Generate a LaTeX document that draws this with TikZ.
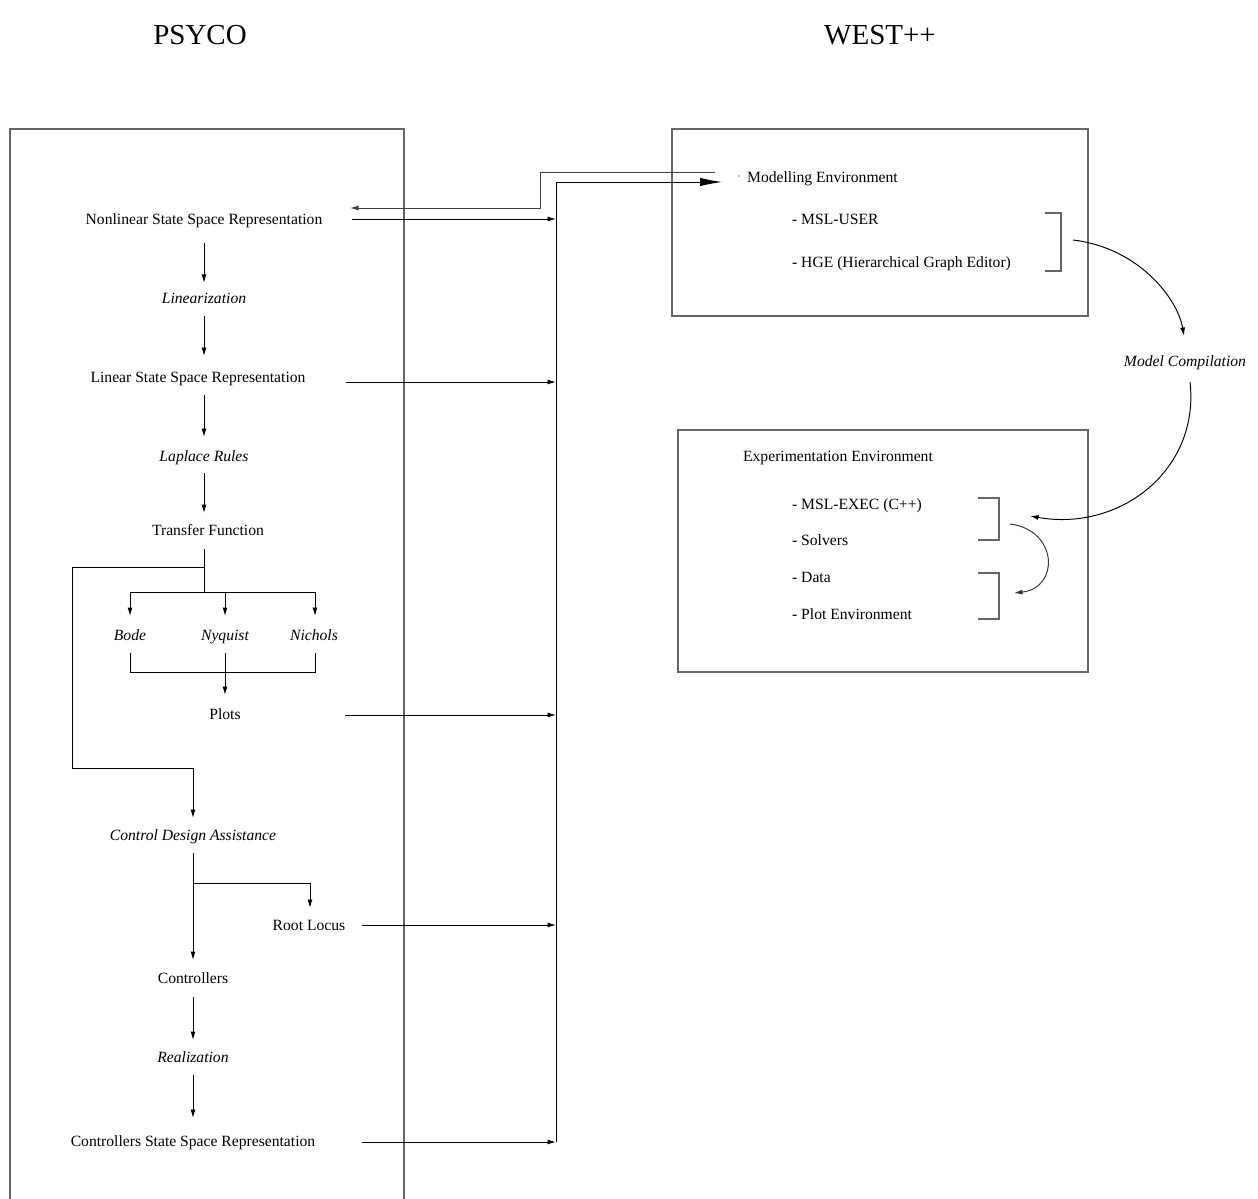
\documentclass[tikz,border=0pt]{standalone}
\usepackage{fontspec}
\setmainfont{Liberation Serif}
\usetikzlibrary{arrows, arrows.meta}

\begin{document}
\begin{tikzpicture}[x=0.02cm, y=-0.02cm,
		txt/.style={font=\fontsize{8.9}{10}\selectfont, inner sep=1pt, text height=1.6ex, text depth=0.4ex},
		itxt/.style={txt, font=\fontsize{8.9}{10}\selectfont\itshape},
		ltxt/.style={txt, anchor=west},
		ttl/.style={font=\fontsize{16.5}{18}\selectfont},
		frame/.style={draw=black!60, line width=0.6pt},
		flow/.style={-{Latex[length=1.7mm,width=1mm]}, line width=0.55pt},
		link/.style={line width=0.55pt}]
		\useasboundingbox (0, 0) rectangle (1258, 1199);
		% titles
		\node(PSYCO) at (200, 35)[ttl]{PSYCO};
		\node(WEST) at (880, 35)[ttl]{WEST++};
		% frames
		\draw[frame] (10, 1199)--(10, 129)--(404, 129)--(404, 1199);
		\draw[frame] (672, 129) rectangle (1088, 316);
		\draw[frame] (678, 430) rectangle (1088, 672);
		% PSYCO chain
		\node(NSS) at (204, 220)[txt]{Nonlinear State Space Representation};
		\node(LIN) at (204, 299)[itxt]{Linearization};
		\node(LSS) at (198, 378)[txt]{Linear State Space Representation};
		\node(LAP) at (204, 457)[itxt]{Laplace Rules};
		\node(TF) at (208, 531)[txt]{Transfer Function};
		\node(BODE) at (130, 636)[itxt]{Bode};
		\node(NYQ) at (225, 636)[itxt]{Nyquist};
		\node(NICH) at (314, 636)[itxt]{Nichols};
		\node(PLOTS) at (225, 715)[txt]{Plots};
		\node(CDA) at (193, 836)[itxt]{Control Design Assistance};
		\node(RL) at (309, 926)[txt]{Root Locus};
		\node(CTRL) at (193, 979)[txt]{Controllers};
		\node(REAL) at (193, 1058)[itxt]{Realization};
		\node(CSS) at (193, 1142)[txt]{Controllers State Space Representation};
		\draw[flow] (204, 243)--(204, 283);
		\draw[flow] (204, 316)--(204, 356);
		\draw[flow] (204, 395)--(204, 437);
		\draw[flow] (204, 473)--(204, 513);
		\draw[link] (204, 549)--(204, 592);
		\draw[link] (130, 592)--(315, 592);
		\draw[flow] (130, 592)--(130, 616);
		\draw[flow] (225, 592)--(225, 616);
		\draw[flow] (315, 592)--(315, 616);
		\draw[link] (130, 653)--(130, 672)--(315, 672)--(315, 653);
		\draw[flow] (225, 653)--(225, 695);
		\draw[flow] (204, 567)--(72, 567)--(72, 768)--(193, 768)--(193, 818);
		\draw[flow] (193, 853)--(193, 960);
		\draw[flow] (193, 883)--(310, 883)--(310, 908);
		\draw[flow] (193, 997)--(193, 1040);
		\draw[flow] (193, 1075)--(193, 1118);
		% to WEST++
		\coordinate(BUS) at (556, 182);
		\draw[flow] (352, 219)--(556, 219);
		\draw[flow] (346, 382)--(556, 382);
		\draw[flow] (345, 715)--(556, 715);
		\draw[flow] (362, 925)--(556, 925);
		\draw[flow] (362, 1142)--(556, 1142);
		\draw[link, -{Latex[length=4.4mm,width=1.7mm]}] (556, 1142)--(BUS)--(722, 182);
		\draw[flow, draw=black!75] (715, 172)--(540, 172)--(540, 208)--(350, 208);
		% Modelling Environment
		\fill (739, 176) circle (0.6);
		\node(MOD) at (745, 178)[ltxt]{Modelling Environment};
		\node(MSLU) at (790, 220)[ltxt]{- MSL-USER};
		\node(HGE) at (790, 263)[ltxt]{- HGE (Hierarchical Graph Editor)};
		\draw[frame] (1045, 213)--(1061, 213)--(1061, 271)--(1045, 271);
		\node(MC) at (1185, 362)[itxt]{Model Compilation};
		\draw[flow] (1073, 240) .. controls (1140, 248) and (1178, 300) .. (1184, 336);
		\draw[flow] (1190, 382) .. controls (1200, 470) and (1120, 532) .. (1030, 516);
		% Experimentation Environment
		\node(EXP) at (741, 457)[ltxt]{Experimentation Environment};
		\node(MSLE) at (790, 505)[ltxt]{- MSL-EXEC (C++)};
		\node(SOLV) at (790, 541)[ltxt]{- Solvers};
		\node(DATA) at (790, 578)[ltxt]{- Data};
		\node(PLOT) at (790, 615)[ltxt]{- Plot Environment};
		\draw[frame] (978, 498)--(999, 498)--(999, 540)--(978, 540);
		\draw[frame] (978, 573)--(999, 573)--(999, 619)--(978, 619);
		\draw[flow, draw=black!80] (1010, 524) .. controls (1058, 530) and (1060, 588) .. (1014, 593);
\end{tikzpicture}
\end{document}
